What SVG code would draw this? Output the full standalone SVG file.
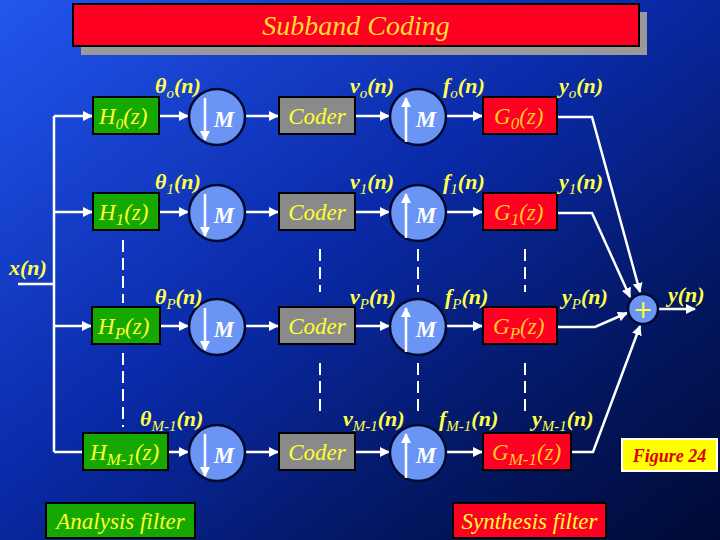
<svg xmlns="http://www.w3.org/2000/svg" width="720" height="540" viewBox="0 0 720 540">
<defs>
<linearGradient id="bg" x1="0" y1="0" x2="1" y2="1">
<stop offset="0" stop-color="#2256ee"/>
<stop offset="0.45" stop-color="#0a2aa8"/>
<stop offset="0.75" stop-color="#031762"/>
<stop offset="1" stop-color="#000a35"/>
</linearGradient>
<marker id="ah" viewBox="0 0 10 10" refX="9" refY="5" markerWidth="4" markerHeight="4" orient="auto" markerUnits="strokeWidth">
<path d="M0,0 L10,5 L0,10 z" fill="#ffffff"/>
</marker>
<style>
.wire{stroke:#ffffff;stroke-width:2.5;fill:none}
.dash{stroke:#ffffff;stroke-width:2;stroke-dasharray:12 6;fill:none}
.hbox{fill:#14a800;stroke:#000000;stroke-width:2}
.cbox{fill:#8a8a8a;stroke:#000000;stroke-width:2}
.gbox{fill:#ff0022;stroke:#000000;stroke-width:2}
.circ{fill:#6b95f5;stroke:#000a30;stroke-width:2.5}
.in{font-family:"Liberation Serif","Times New Roman",serif;font-style:italic;font-size:23px}
.ht{fill:#ffff33}
.gt{fill:#ffcc22}
.m{font-family:"Liberation Serif","Times New Roman",serif;font-style:italic;font-weight:bold;font-size:23px;fill:#ffffff}
.lbl{font-family:"Liberation Serif","Times New Roman",serif;font-style:italic;font-weight:bold;font-size:22px;fill:#ffff4d}
.sub{font-weight:normal;font-size:15px}
</style>
</defs>
<rect x="0" y="0" width="720" height="540" fill="url(#bg)"/>

<g id="title">
<rect x="81" y="12" width="566" height="43" fill="#999999"/>
<rect x="73" y="4" width="566" height="42" fill="#ff0022" stroke="#000000" stroke-width="2"/>
<text x="356" y="35" text-anchor="middle" font-family="'Liberation Serif','Times New Roman',serif" font-style="italic" font-size="28" fill="#ffdd33">Subband Coding</text>
</g>

<g id="connectors">
<path class="wire" d="M18,284 H54 M54,116 V452"/>
<line class="wire" x1="54" y1="116" x2="92" y2="116" marker-end="url(#ah)"/>
<line class="wire" x1="54" y1="212" x2="92" y2="212" marker-end="url(#ah)"/>
<line class="wire" x1="54" y1="326" x2="91" y2="326" marker-end="url(#ah)"/>
<line class="wire" x1="54" y1="452" x2="82" y2="452"/>

<line class="wire" x1="159" y1="116" x2="188" y2="116" marker-end="url(#ah)"/>
<line class="wire" x1="159" y1="212" x2="188" y2="212" marker-end="url(#ah)"/>
<line class="wire" x1="160" y1="326" x2="188" y2="326" marker-end="url(#ah)"/>
<line class="wire" x1="168" y1="452" x2="188" y2="452" marker-end="url(#ah)"/>

<line class="wire" x1="246" y1="116" x2="278" y2="116" marker-end="url(#ah)"/>
<line class="wire" x1="246" y1="212" x2="278" y2="212" marker-end="url(#ah)"/>
<line class="wire" x1="246" y1="326" x2="278" y2="326" marker-end="url(#ah)"/>
<line class="wire" x1="246" y1="452" x2="278" y2="452" marker-end="url(#ah)"/>

<line class="wire" x1="355" y1="116" x2="389" y2="116" marker-end="url(#ah)"/>
<line class="wire" x1="355" y1="212" x2="389" y2="212" marker-end="url(#ah)"/>
<line class="wire" x1="355" y1="326" x2="389" y2="326" marker-end="url(#ah)"/>
<line class="wire" x1="355" y1="452" x2="389" y2="452" marker-end="url(#ah)"/>

<line class="wire" x1="447" y1="116" x2="482" y2="116" marker-end="url(#ah)"/>
<line class="wire" x1="447" y1="212" x2="482" y2="212" marker-end="url(#ah)"/>
<line class="wire" x1="447" y1="326" x2="482" y2="326" marker-end="url(#ah)"/>
<line class="wire" x1="447" y1="452" x2="482" y2="452" marker-end="url(#ah)"/>

<polyline class="wire" points="557,117 592,117 640,292" marker-end="url(#ah)"/>
<polyline class="wire" points="557,213 592,213 630,297" marker-end="url(#ah)"/>
<polyline class="wire" points="557,327 595,327 627,313" marker-end="url(#ah)"/>
<polyline class="wire" points="571,452 593,452 640,326" marker-end="url(#ah)"/>
<line class="wire" x1="658" y1="309" x2="695" y2="309" marker-end="url(#ah)"/>

<path class="dash" d="M123,240 V303 M123,353 V427"/>
<path class="dash" d="M320,249 V292 M320,363 V416"/>
<path class="dash" d="M418,249 V292 M418,363 V416"/>
<path class="dash" d="M525,249 V292 M525,363 V416"/>
</g>

<g id="H0"><rect class="hbox" x="93" y="97" width="66" height="37"/><text class="in ht" x="99" y="124">H<tspan class="sub" dy="5" font-size="17">0</tspan><tspan dy="-5">(z)</tspan></text></g>
<g id="H1"><rect class="hbox" x="93" y="193" width="66" height="37"/><text class="in ht" x="99" y="220">H<tspan dy="5" font-size="17">1</tspan><tspan dy="-5">(z)</tspan></text></g>
<g id="HP"><rect class="hbox" x="92" y="307" width="68" height="37"/><text class="in ht" x="98" y="334">H<tspan dy="5" font-size="17">P</tspan><tspan dy="-5">(z)</tspan></text></g>
<g id="HM1"><rect class="hbox" x="83" y="433" width="85" height="37"/><text class="in ht" x="90" y="460">H<tspan dy="5" font-size="17">M-1</tspan><tspan dy="-5">(z)</tspan></text></g>

<g id="D0"><circle class="circ" cx="217" cy="117" r="28"/><line class="wire" x1="205" y1="98" x2="205" y2="140" marker-end="url(#ah)"/><text class="m" x="224" y="127" text-anchor="middle">M</text></g>
<g id="D1"><circle class="circ" cx="217" cy="213" r="28"/><line class="wire" x1="205" y1="194" x2="205" y2="236" marker-end="url(#ah)"/><text class="m" x="224" y="223" text-anchor="middle">M</text></g>
<g id="DP"><circle class="circ" cx="217" cy="327" r="28"/><line class="wire" x1="205" y1="308" x2="205" y2="350" marker-end="url(#ah)"/><text class="m" x="224" y="337" text-anchor="middle">M</text></g>
<g id="DM1"><circle class="circ" cx="217" cy="453" r="28"/><line class="wire" x1="205" y1="434" x2="205" y2="476" marker-end="url(#ah)"/><text class="m" x="224" y="463" text-anchor="middle">M</text></g>

<g id="C0"><rect class="cbox" x="279" y="97" width="76" height="37"/><text class="in ht" x="317" y="124" text-anchor="middle">Coder</text></g>
<g id="C1"><rect class="cbox" x="279" y="193" width="76" height="37"/><text class="in ht" x="317" y="220" text-anchor="middle">Coder</text></g>
<g id="CP"><rect class="cbox" x="279" y="307" width="76" height="37"/><text class="in ht" x="317" y="334" text-anchor="middle">Coder</text></g>
<g id="CM1"><rect class="cbox" x="279" y="433" width="76" height="37"/><text class="in ht" x="317" y="460" text-anchor="middle">Coder</text></g>

<g id="U0"><circle class="circ" cx="418" cy="117" r="28"/><line class="wire" x1="406" y1="142" x2="406" y2="98" marker-end="url(#ah)"/><text class="m" x="426" y="127" text-anchor="middle">M</text></g>
<g id="U1"><circle class="circ" cx="418" cy="213" r="28"/><line class="wire" x1="406" y1="238" x2="406" y2="194" marker-end="url(#ah)"/><text class="m" x="426" y="223" text-anchor="middle">M</text></g>
<g id="UP"><circle class="circ" cx="418" cy="327" r="28"/><line class="wire" x1="406" y1="352" x2="406" y2="308" marker-end="url(#ah)"/><text class="m" x="426" y="337" text-anchor="middle">M</text></g>
<g id="UM1"><circle class="circ" cx="418" cy="453" r="28"/><line class="wire" x1="406" y1="478" x2="406" y2="434" marker-end="url(#ah)"/><text class="m" x="426" y="463" text-anchor="middle">M</text></g>

<g id="G0"><rect class="gbox" x="483" y="97" width="74" height="37"/><text class="in gt" x="494" y="124">G<tspan dy="5" font-size="17">0</tspan><tspan dy="-5">(z)</tspan></text></g>
<g id="G1"><rect class="gbox" x="483" y="193" width="74" height="37"/><text class="in gt" x="494" y="220">G<tspan dy="5" font-size="17">1</tspan><tspan dy="-5">(z)</tspan></text></g>
<g id="GP"><rect class="gbox" x="483" y="307" width="74" height="37"/><text class="in gt" x="493" y="334">G<tspan dy="5" font-size="17">P</tspan><tspan dy="-5">(z)</tspan></text></g>
<g id="GM1"><rect class="gbox" x="483" y="433" width="88" height="37"/><text class="in gt" x="492" y="460">G<tspan dy="5" font-size="17">M-1</tspan><tspan dy="-5">(z)</tspan></text></g>

<g id="adder"><circle class="circ" cx="643" cy="309" r="15"/><text x="643" y="318" text-anchor="middle" font-family="'DejaVu Sans',sans-serif" font-size="24" fill="#ffff33">+</text></g>

<g id="labels">
<text class="lbl" x="9" y="275">x(n)</text>
<text class="lbl" x="155" y="93">θ<tspan class="sub" dy="5">o</tspan><tspan dy="-5">(n)</tspan></text>
<text class="lbl" x="155" y="189">θ<tspan class="sub" dy="5">1</tspan><tspan dy="-5">(n)</tspan></text>
<text class="lbl" x="155" y="304">θ<tspan class="sub" dy="5">P</tspan><tspan dy="-5">(n)</tspan></text>
<text class="lbl" x="140" y="426">θ<tspan class="sub" dy="5">M-1</tspan><tspan dy="-5">(n)</tspan></text>

<text class="lbl" x="350" y="93">v<tspan class="sub" dy="5">o</tspan><tspan dy="-5">(n)</tspan></text>
<text class="lbl" x="350" y="189">v<tspan class="sub" dy="5">1</tspan><tspan dy="-5">(n)</tspan></text>
<text class="lbl" x="350" y="304">v<tspan class="sub" dy="5">P</tspan><tspan dy="-5">(n)</tspan></text>
<text class="lbl" x="343" y="426">v<tspan class="sub" dy="5">M-1</tspan><tspan dy="-5">(n)</tspan></text>

<text class="lbl" x="443" y="93">f<tspan class="sub" dy="5">o</tspan><tspan dy="-5">(n)</tspan></text>
<text class="lbl" x="443" y="189">f<tspan class="sub" dy="5">1</tspan><tspan dy="-5">(n)</tspan></text>
<text class="lbl" x="445" y="304">f<tspan class="sub" dy="5">P</tspan><tspan dy="-5">(n)</tspan></text>
<text class="lbl" x="439" y="426">f<tspan class="sub" dy="5">M-1</tspan><tspan dy="-5">(n)</tspan></text>

<text class="lbl" x="559" y="93">y<tspan class="sub" dy="5">o</tspan><tspan dy="-5">(n)</tspan></text>
<text class="lbl" x="559" y="189">y<tspan class="sub" dy="5">1</tspan><tspan dy="-5">(n)</tspan></text>
<text class="lbl" x="562" y="304">y<tspan class="sub" dy="5">P</tspan><tspan dy="-5">(n)</tspan></text>
<text class="lbl" x="532" y="426">y<tspan class="sub" dy="5">M-1</tspan><tspan dy="-5">(n)</tspan></text>

<text class="lbl" x="668" y="302">y(n)</text>
</g>

<g id="figure24"><rect x="622" y="439" width="95" height="32" fill="#ffff00" stroke="#ffffff" stroke-width="2"/><text x="669.5" y="462" text-anchor="middle" font-family="'Liberation Serif','Times New Roman',serif" font-style="italic" font-weight="bold" font-size="18" fill="#dd0000">Figure 24</text></g>

<g id="analysis"><rect x="46" y="503" width="149" height="35" fill="#14a800" stroke="#000000" stroke-width="2"/><text class="in" x="120.5" y="529" text-anchor="middle" fill="#ffff33">Analysis filter</text></g>
<g id="synthesis"><rect x="453" y="503" width="153" height="35" fill="#ff0022" stroke="#000000" stroke-width="2"/><text class="in" x="529.5" y="529" text-anchor="middle" fill="#ffff33">Synthesis filter</text></g>
</svg>
